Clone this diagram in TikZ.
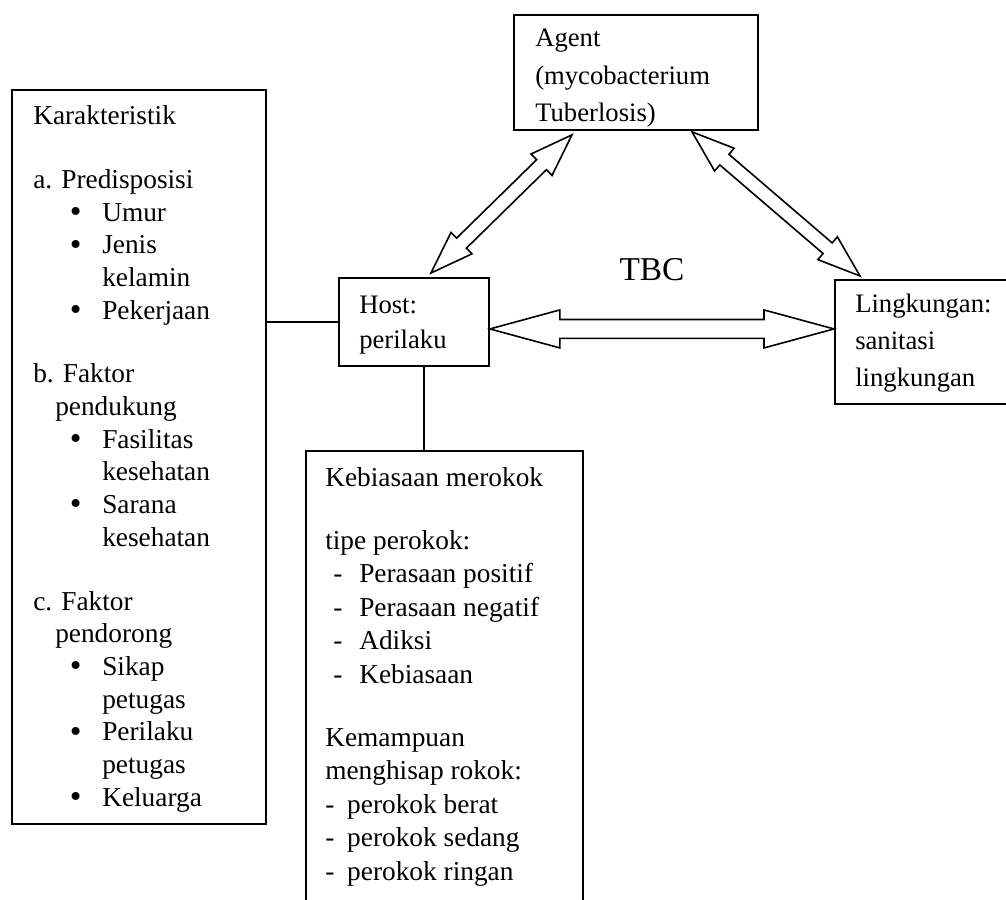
\documentclass[tikz,border=0pt]{standalone}
\usepackage{fontspec}
\setmainfont{Liberation Serif}
\usetikzlibrary{calc}
\newcommand\bitem{\hspace*{27.5pt}\makebox[24.25pt][l]{\raisebox{-1pt}{\fontsize{25}{25}\selectfont\textbullet}}}
\newcommand\bcont{\hspace*{51.75pt}}
\newcommand\dashA{\hspace*{6pt}\makebox[19.5pt][l]{-}}
\newcommand\dashB{\makebox[16.5pt][l]{-}}
\newcommand\hollowarrow[5]{%
  \draw[arrowline] let \p1=(#1), \p2=(#2),
    \n1={atan2(\y2-\y1,\x2-\x1)}, \n2={veclen(\x2-\x1,\y2-\y1)} in
    [shift={(\p1)}, rotate=\n1]
    (0pt,0pt) -- (#5,#4) -- (#5,#3) -- (\n2*1pt-#5,#3) -- (\n2*1pt-#5,#4)
    -- (\n2*1pt,0pt) -- (\n2*1pt-#5,-#4) -- (\n2*1pt-#5,-#3) -- (#5,-#3)
    -- (#5,-#4) -- cycle;}
\tikzset{
  box/.style={draw, line width=1.4pt, anchor=north west, inner sep=0pt},
  txt/.style={anchor=base west, align=left, inner sep=0pt},
  arrowline/.style={draw, line width=1.2pt, line join=miter},
  link/.style={draw, line width=1.4pt}
}
\begin{document}
\begin{tikzpicture}[x=0.75pt,y=-0.75pt]
\useasboundingbox (0,0) rectangle (1006,899);
% boxes
\node[box, minimum width=190.5pt, minimum height=550.5pt] (kar) at (11,89) {};
\node[box, minimum width=112.5pt, minimum height=66pt] (host) at (338,277) {};
\node[box, minimum width=183pt, minimum height=86.25pt] (agent) at (513,14) {};
\node[box, minimum width=133.5pt, minimum height=93pt] (ling) at (834,279) {};
\node[box, minimum width=207.75pt, minimum height=348.75pt] (keb) at (305,450) {};
% texts (anchored at the baseline of their last line)
\node[txt, font=\fontsize{20.5}{24.5}\selectfont] (kartxt) at (33,806) {%
Karakteristik\\[23.3pt]
a. Predisposisi\\
\bitem Umur\\
\bitem Jenis\\
\bcont kelamin\\
\bitem Pekerjaan\\[23.3pt]
b. Faktor\\
\hspace*{16.5pt}pendukung\\
\bitem Fasilitas\\
\bcont kesehatan\\
\bitem Sarana\\
\bcont kesehatan\\[23.3pt]
c. Faktor\\
\hspace*{16.5pt}pendorong\\
\bitem Sikap\\
\bcont petugas\\
\bitem Perilaku\\
\bcont petugas\\
\bitem Keluarga};
\node[txt, font=\fontsize{20.5}{25.1}\selectfont] (kebtxt) at (325,880) {%
Kebiasaan merokok\\[22.1pt]
tipe perokok:\\
\dashA Perasaan positif\\
\dashA Perasaan negatif\\
\dashA Adiksi\\
\dashA Kebiasaan\\[22.1pt]
Kemampuan\\
menghisap rokok:\\
\dashB perokok berat\\
\dashB perokok sedang\\
\dashB perokok ringan};
\node[txt, font=\fontsize{20}{26.25}\selectfont] (hosttxt) at (359,348) {Host:\\perilaku};
\node[txt, font=\fontsize{20}{27.75}\selectfont] (agenttxt) at (535,121) {Agent\\(mycobacterium\\Tuberlosis)};
\node[txt, font=\fontsize{20}{27.4}\selectfont] (lingtxt) at (855,386) {Lingkungan:\\sanitasi\\lingkungan};
\node[anchor=base, inner sep=0pt, font=\fontsize{25}{30}\selectfont] (tbc) at (652,280) {TBC};
% plain connectors
\draw[link] (host.west) -- (host.west -| kar.east);
\draw[link] ([xshift=7.5pt]host.south) -- ([xshift=7.5pt]host.south |- keb.north);
% hollow double arrows
\coordinate (a1h) at ($(host.north west)+(93,-4)$);
\coordinate (a1a) at ($(agent.south west)+(59,4)$);
\coordinate (a2a) at ($(agent.south west)+(179,1)$);
\coordinate (a2l) at ($(ling.north west)+(26,-3)$);
\coordinate (a3h) at ($(host.east)+(0,7)$);
\coordinate (a3l) at ($(ling.west)+(0,-13)$);
\hollowarrow{a1h}{a1a}{5.25pt}{11.25pt}{32pt}
\hollowarrow{a2a}{a2l}{5.25pt}{11.25pt}{32pt}
\hollowarrow{a3h}{a3l}{7.1pt}{14.25pt}{52.5pt}
\end{tikzpicture}
\end{document}
